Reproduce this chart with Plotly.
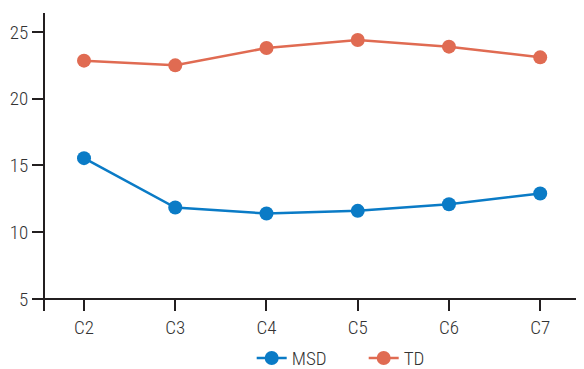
import plotly.graph_objects as go

categories = ["C2", "C3", "C4", "C5", "C6", "C7"]
msd = [15.55, 11.85, 11.4, 11.6, 12.1, 12.9]
td = [22.85, 22.5, 23.8, 24.4, 23.9, 23.1]
y_ticks = [5, 10, 15, 20, 25]

FONT = "Roboto Condensed, Liberation Sans Narrow, DejaVu Sans Condensed, sans-serif"
AXC = "#231f20"

fig = go.Figure()
fig.add_trace(go.Scatter(x=categories, y=msd, name="MSD", mode="lines+markers",
                         line=dict(color="#0a7bc6", width=2.5),
                         marker=dict(size=14, color="#0a7bc6")))
fig.add_trace(go.Scatter(x=categories, y=td, name="TD", mode="lines+markers",
                         line=dict(color="#e06b52", width=2.5),
                         marker=dict(size=14, color="#e06b52")))

# page body adds an 8px margin, so the figure is 8px smaller on each axis
fig.update_layout(
    width=576, height=361,
    margin=dict(l=24, r=0, t=5, b=58, autoexpand=False),
    paper_bgcolor="white", plot_bgcolor="white",
    font=dict(family=FONT, size=19, color="#333333", weight=300),
    showlegend=True,
    legend=dict(orientation="h", x=0.398, xanchor="left", y=-0.158, yanchor="middle",
                font=dict(size=19, weight=300), entrywidth=67, entrywidthmode="pixels",
                traceorder="normal"),
    xaxis=dict(type="category", range=[-0.57, 5.48], showgrid=False, zeroline=False,
               showline=True, linecolor=AXC, linewidth=2, automargin=False,
               ticks="outside", ticklen=11, tickwidth=2, tickcolor=AXC,
               anchor="free", position=0.0403),
    yaxis=dict(range=[4.1, 26.42], tickvals=y_ticks, showgrid=False, zeroline=False,
               showline=True, linecolor=AXC, linewidth=2, automargin=False,
               ticks="outside", ticklen=11, tickwidth=2, tickcolor=AXC,
               anchor="free", position=0.0217),
)

fig.write_html("out.html")
